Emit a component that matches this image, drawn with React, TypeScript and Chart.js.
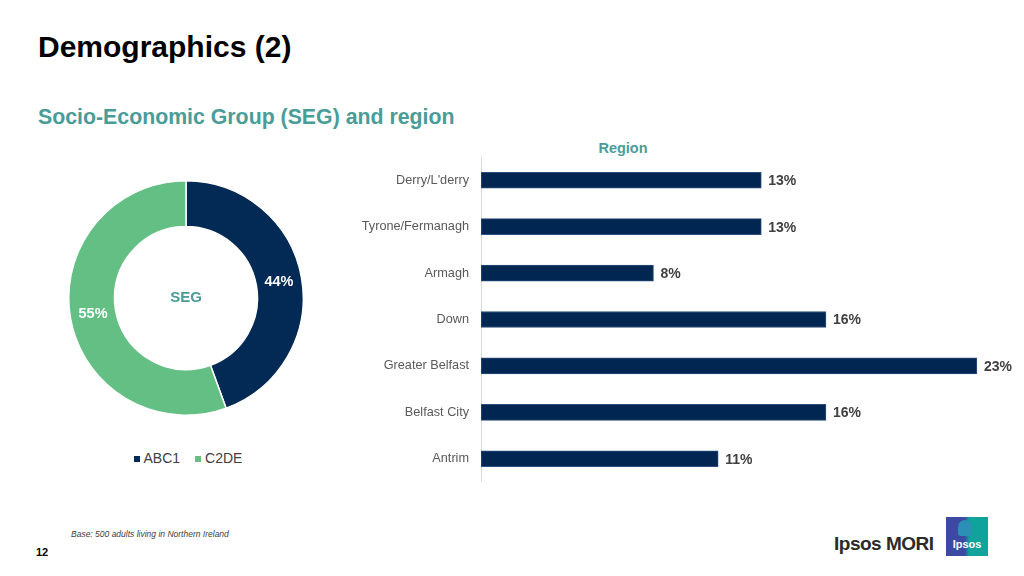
import React, { useEffect, useRef } from "react";
import { Chart, registerables } from "chart.js";
Chart.register(...registerables);

const segLabels = ["ABC1", "C2DE"];
const segValues = [44, 55];
const segColors = ["#022a54", "#64bf85"];

const regionLabels = ["Derry/L'derry", "Tyrone/Fermanagh", "Armagh", "Down", "Greater Belfast", "Belfast City", "Antrim"];
const regionValues = [13, 13, 8, 16, 23, 16, 11];

const NAVY = "#022652";
const TEAL = "#4a9c98";
const FONT = "'Liberation Sans', Arial, Helvetica, sans-serif";

function Doughnut() {
  const ref = useRef<HTMLCanvasElement>(null);
  useEffect(() => {
    const labelPlugin = {
      id: "arcLabels",
      afterDatasetsDraw(chart: any) {
        const ctx = chart.ctx;
        const meta = chart.getDatasetMeta(0);
        ctx.save();
        ctx.font = `bold 14.5px ${FONT}`;
        ctx.fillStyle = "#ffffff";
        ctx.textAlign = "center";
        ctx.textBaseline = "middle";
        meta.data.forEach((arc: any, i: number) => {
          const p = arc.tooltipPosition();
          ctx.fillText(segValues[i] + "%", p.x, p.y);
        });
        ctx.font = `bold 15px ${FONT}`;
        ctx.fillStyle = TEAL;
        const cx = (chart.chartArea.left + chart.chartArea.right) / 2;
        const cy = (chart.chartArea.top + chart.chartArea.bottom) / 2;
        ctx.fillText("SEG", cx, cy);
        ctx.restore();
      },
    };
    const chart = new Chart(ref.current!, {
      type: "doughnut",
      data: {
        labels: segLabels,
        datasets: [{ data: segValues, backgroundColor: segColors, borderColor: "#ffffff", borderWidth: 1.5 }],
      },
      options: {
        animation: false,
        responsive: false,
        cutout: "61%",
        layout: { padding: 0 },
        plugins: { legend: { display: false }, tooltip: { enabled: false } },
      },
      plugins: [labelPlugin],
    });
    return () => chart.destroy();
  }, []);
  return <canvas ref={ref} width={236} height={236} style={{ position: "absolute", left: 68, top: 180, width: 236, height: 236 }} />;
}

function Bars() {
  const ref = useRef<HTMLCanvasElement>(null);
  useEffect(() => {
    const valuePlugin = {
      id: "valueLabels",
      afterDatasetsDraw(chart: any) {
        const ctx = chart.ctx;
        const meta = chart.getDatasetMeta(0);
        ctx.save();
        ctx.font = `bold 14px ${FONT}`;
        ctx.fillStyle = "#404040";
        ctx.textAlign = "left";
        ctx.textBaseline = "middle";
        meta.data.forEach((bar: any, i: number) => {
          ctx.fillText(regionValues[i] + "%", bar.x + 7, bar.y + 1);
        });
        ctx.restore();
      },
    };
    const chart = new Chart(ref.current!, {
      type: "bar",
      data: {
        labels: regionLabels,
        datasets: [{ data: regionValues, backgroundColor: NAVY, borderColor: "#2b4f7e", borderWidth: 1, borderSkipped: false, barThickness: 16 }],
      },
      options: {
        indexAxis: "y",
        animation: false,
        responsive: false,
        layout: { padding: { right: 4, top: 0, bottom: 0, left: 0 } },
        scales: {
          x: { display: false, min: 0, max: 25 },
          y: {
            afterFit(scale: any) {
              scale.width = 141;
              scale.paddingTop = 0;
              scale.paddingBottom = 0;
            },
            grid: { display: false, drawTicks: false },
            border: { display: true, color: "#d9d9d9", width: 1 },
            ticks: { padding: 12, color: "#595959", font: { family: FONT, size: 12.7 } },
          },
        },
        plugins: { legend: { display: false }, tooltip: { enabled: false } },
      },
      plugins: [valuePlugin],
    });
    return () => chart.destroy();
  }, []);
  return <canvas ref={ref} width={684} height={325} style={{ position: "absolute", left: 340, top: 157, width: 684, height: 325 }} />;
}

export default function App() {
  return (
    <div style={{ position: "fixed", left: 0, top: 0, width: 1024, height: 576, background: "#fff", fontFamily: FONT, overflow: "hidden" }}>
      <div style={{ position: "absolute", left: 38, top: 30, fontSize: 30, fontWeight: "bold", color: "#000" }}>Demographics (2)</div>
      <div style={{ position: "absolute", left: 38, top: 105, fontSize: 21.3, fontWeight: "bold", color: TEAL }}>Socio-Economic Group (SEG) and region</div>
      <div style={{ position: "absolute", left: 573, width: 100, top: 140, textAlign: "center", fontSize: 14.5, fontWeight: "bold", color: TEAL }}>Region</div>
      <Doughnut />
      <div style={{ position: "absolute", left: 88, width: 200, top: 450, textAlign: "center", fontSize: 14, color: "#404040", whiteSpace: "nowrap" }}>
        <span style={{ display: "inline-block", width: 6, height: 6, background: segColors[0], marginRight: 4, verticalAlign: "middle" }} />
        <span style={{ marginRight: 15 }}>{segLabels[0]}</span>
        <span style={{ display: "inline-block", width: 6, height: 6, background: segColors[1], marginRight: 4, verticalAlign: "middle" }} />
        <span>{segLabels[1]}</span>
      </div>
      <Bars />
      <div style={{ position: "absolute", left: 71, top: 529, fontSize: 8.5, fontStyle: "italic", color: "#404040" }}>Base: 500 adults living in Northern Ireland</div>
      <div style={{ position: "absolute", left: 36, top: 546, fontSize: 11, fontWeight: "bold", color: "#000" }}>12</div>
      <div style={{ position: "absolute", left: 834, top: 533, fontSize: 19, fontWeight: "bold", color: "#2b2b2b", letterSpacing: -0.5 }}>Ipsos MORI</div>
      <div style={{ position: "absolute", left: 946, top: 517, width: 42, height: 39, background: "linear-gradient(90deg, #3d4aa3 0%, #3d4aa3 45%, #0fa39b 55%, #0fa39b 100%)" }}>
        <div style={{ position: "absolute", left: 12, top: 3, width: 14, height: 16, borderRadius: "7px 7px 3px 3px", background: "#2c8fb5" }} />
        <div style={{ position: "absolute", left: 0, width: 42, top: 21, textAlign: "center", fontSize: 11, fontWeight: "bold", color: "#fff" }}>Ipsos</div>
      </div>
    </div>
  );
}
